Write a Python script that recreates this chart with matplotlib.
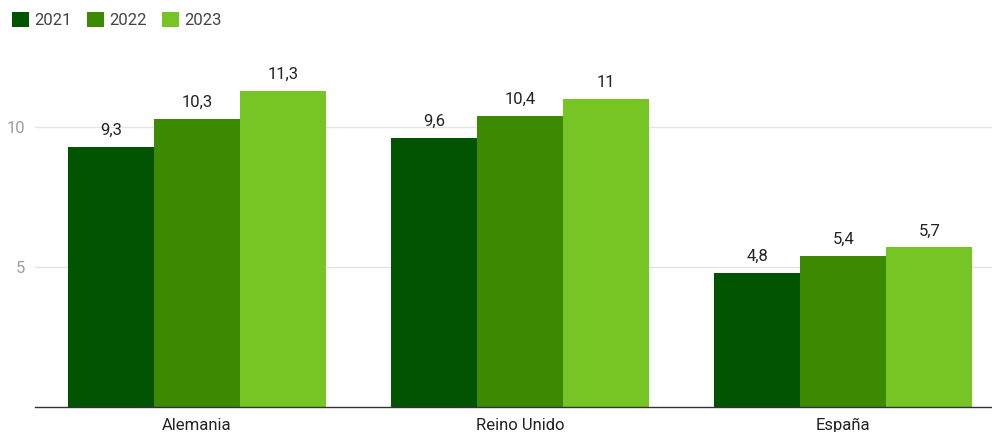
import matplotlib.pyplot as plt
import numpy as np

plt.rcParams['font.family'] = ['Roboto', 'DejaVu Sans']

paises = ['Alemania', 'Reino Unido', 'España']
anios = ['2021', '2022', '2023']
v2021 = [9.3, 9.6, 4.8]
v2022 = [10.3, 10.4, 5.4]
v2023 = [11.3, 11.0, 5.7]
colores = ['#005400', '#3b8a02', '#77c425']

fig = plt.figure(figsize=(9.92, 4.32), dpi=100)
ax = fig.add_axes([35 / 992, 25 / 432, 957 / 992, 378 / 432])

x = np.arange(len(paises))
w = 0.266
for i, (serie, c, a) in enumerate(zip([v2021, v2022, v2023], colores, anios)):
    pos = x + (i - 1) * w
    ax.bar(pos, serie, width=w, color=c, label=a, zorder=3)
    for px, v in zip(pos, serie):
        txt = ('%g' % v).replace('.', ',')
        ax.annotate(txt, (px, v), xytext=(0, 6.5), textcoords='offset points',
                    ha='center', va='bottom', fontsize=12, color='#222222')

ax.set_xlim(-0.5015, 2.46)
ax.set_ylim(0, 13.5)
ax.set_xticks(x)
ax.set_xticklabels(paises)
ax.set_yticks([5, 10])
ax.tick_params(axis='x', length=0, pad=8, labelsize=12, labelcolor='#222222')
ax.tick_params(axis='y', length=0, pad=7, labelsize=12, labelcolor='#9e9e9e')
ax.grid(axis='y', color='#e3e3e3', linewidth=1, zorder=0)
for s in ['top', 'right', 'left']:
    ax.spines[s].set_visible(False)
ax.spines['bottom'].set_color('#333333')
ax.spines['bottom'].set_linewidth(1)
ax.spines['bottom'].set_zorder(4)

leg = fig.legend(loc='upper left', bbox_to_anchor=(0.0, 1.0), ncol=3, frameon=False,
                 fontsize=12, handlelength=1.05, handleheight=1.05, handletextpad=0.3,
                 columnspacing=0.9, borderaxespad=0.3)
for t in leg.get_texts():
    t.set_color('#444444')

fig.savefig('out.png', dpi=100)
